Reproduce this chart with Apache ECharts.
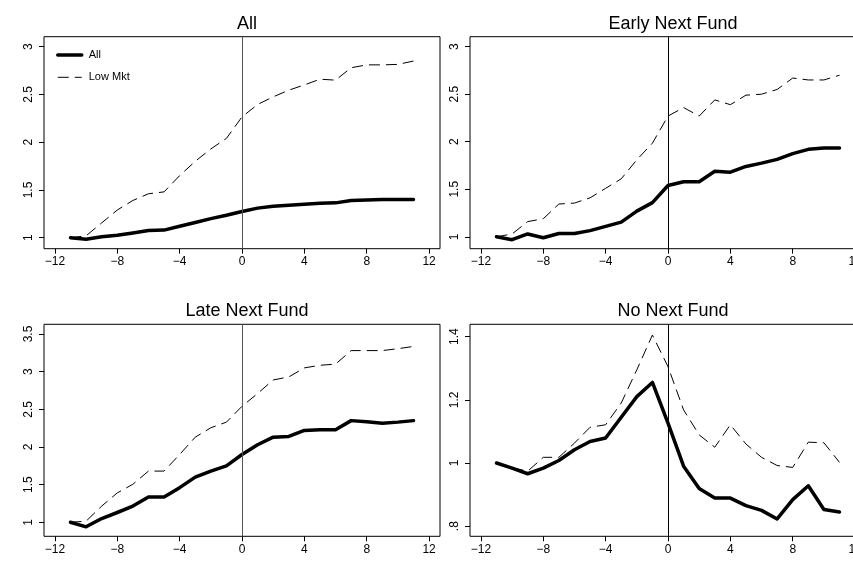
<!DOCTYPE html>
<html>
<head>
<meta charset="utf-8">
<script src="https://cdn.jsdelivr.net/npm/echarts@6/dist/echarts.min.js"></script>
<style>
html,body{margin:0;padding:0;background:#fff;}
#chart{width:853px;height:561px;}
</style>
</head>
<body>
<div id="chart"></div>
<script>
const periods = [-11,-10,-9,-8,-7,-6,-5,-4,-3,-2,-1,0,1,2,3,4,5,6,7,8,9,10,11];

const allAll = [1.0,0.985,1.01,1.025,1.05,1.075,1.08,1.12,1.16,1.2,1.235,1.275,1.31,1.33,1.34,1.35,1.36,1.365,1.39,1.395,1.4,1.4,1.4];
const allLow = [1.0,1.02,1.155,1.29,1.39,1.46,1.48,1.65,1.8,1.93,2.04,2.265,2.395,2.475,2.545,2.6,2.66,2.65,2.78,2.81,2.81,2.815,2.85];

const earlyAll = [1.0,0.97,1.03,0.99,1.035,1.035,1.065,1.11,1.155,1.27,1.36,1.54,1.58,1.58,1.69,1.68,1.74,1.775,1.815,1.875,1.92,1.935,1.935];
const earlyLow = [1.0,1.03,1.16,1.19,1.345,1.355,1.41,1.51,1.61,1.81,1.985,2.27,2.36,2.27,2.44,2.39,2.49,2.5,2.55,2.67,2.65,2.65,2.7];

const lateAll = [1.0,0.94,1.05,1.13,1.215,1.335,1.335,1.46,1.6,1.68,1.75,1.9,2.03,2.13,2.14,2.22,2.23,2.23,2.35,2.335,2.315,2.33,2.35];
const lateLow = [1.0,1.015,1.215,1.39,1.505,1.68,1.68,1.9,2.13,2.255,2.33,2.54,2.71,2.89,2.93,3.05,3.085,3.1,3.28,3.28,3.28,3.305,3.335];

const noAll = [1.0,0.984,0.966,0.984,1.008,1.042,1.068,1.079,1.145,1.21,1.255,1.126,0.99,0.919,0.889,0.889,0.865,0.85,0.823,0.884,0.928,0.853,0.845];
const noLow = [1.0,0.985,0.974,1.018,1.018,1.063,1.113,1.121,1.19,1.295,1.405,1.305,1.168,1.089,1.05,1.121,1.06,1.018,0.992,0.986,1.066,1.064,1.002];

const panelTitles = ['All','Early Next Fund','Late Next Fund','No Next Fund'];
const seriesNames = ['All','Low Mkt'];

const xTicks = [-12,-8,-4,0,4,8,12];
const xTickLabels = ['\u221212','\u22128','\u22124','0','4','8','12'];

const yTicksAll = [1,1.5,2,2.5,3];
const yLabelsAll = ['1','1.5','2','2.5','3'];
const yTicksEarly = [1,1.5,2,2.5,3];
const yLabelsEarly = ['1','1.5','2','2.5','3'];
const yTicksLate = [1,1.5,2,2.5,3,3.5];
const yLabelsLate = ['1','1.5','2','2.5','3','3.5'];
const yTicksNo = [0.8,1,1.2,1.4];
const yLabelsNo = ['.8','1','1.2','1.4'];

const FONT = 'Liberation Sans, Arial, Helvetica, sans-serif';

const panels = [
  {solid: allAll, dashed: allLow, yt: yTicksAll, yl: yLabelsAll, ymin: 0.885, ymax: 3.105, left: 44, top: 36.7, vcol: '#555'},
  {solid: earlyAll, dashed: earlyLow, yt: yTicksEarly, yl: yLabelsEarly, ymin: 0.875, ymax: 3.105, left: 470, top: 36.7, vcol: '#000'},
  {solid: lateAll, dashed: lateLow, yt: yTicksLate, yl: yLabelsLate, ymin: 0.814, ymax: 3.629, left: 44, top: 324.3, vcol: '#555'},
  {solid: noAll, dashed: noLow, yt: yTicksNo, yl: yLabelsNo, ymin: 0.768, ymax: 1.439, left: 470, top: 324.3, vcol: '#000'}
];

const grids = [], xAxes = [], yAxes = [], series = [], titles = [];
panels.forEach((p, i) => {
  grids.push({left: p.left, top: p.top, width: 396, height: 212, show: true, borderColor: '#000', borderWidth: 1,
    backgroundColor: 'transparent', containLabel: false, outerBoundsMode: 'none'});
  xAxes.push({
    type: 'value', gridIndex: i, min: -12.7, max: 12.7,
    axisLine: {show: false, onZero: false},
    splitLine: {show: false},
    axisTick: {show: true, inside: false, length: 5, lineStyle: {color: '#000', width: 1}, customValues: xTicks},
    axisLabel: {customValues: xTicks, margin: 7, color: '#000', fontSize: 12, fontFamily: FONT,
      formatter: v => { const k = xTicks.indexOf(v); return k >= 0 ? xTickLabels[k] : ''; }}
  });
  yAxes.push({
    type: 'value', gridIndex: i, min: p.ymin, max: p.ymax,
    axisLine: {show: false, onZero: false},
    splitLine: {show: false},
    axisTick: {show: true, inside: false, length: 5, lineStyle: {color: '#000', width: 1}, customValues: p.yt},
    axisLabel: {customValues: p.yt, margin: 9, rotate: 90, color: '#000', fontSize: 12, fontFamily: FONT,
      formatter: v => { let k = -1; p.yt.forEach((t, j) => { if (Math.abs(t - v) < 1e-9) k = j; }); return k >= 0 ? p.yl[k] : ''; }}
  });
  titles.push({text: panelTitles[i], left: p.left + 198, top: p.top - 27, textAlign: 'center',
    textStyle: {fontSize: 18, fontWeight: 'normal', color: '#000', fontFamily: FONT}});
  series.push({
    name: seriesNames[0], type: 'line', xAxisIndex: i, yAxisIndex: i, symbol: 'none', z: 4,
    data: periods.map((x, j) => [x, p.solid[j]]),
    lineStyle: {color: '#000', width: 3.5, join: 'round', cap: 'round'},
    itemStyle: {color: '#000'},
    markLine: {silent: true, symbol: 'none', label: {show: false}, animation: false,
      lineStyle: {color: p.vcol, width: 1, type: 'solid'}, data: [{xAxis: 0}]}
  });
  series.push({
    name: seriesNames[1], type: 'line', xAxisIndex: i, yAxisIndex: i, symbol: 'none', z: 3,
    data: periods.map((x, j) => [x, p.dashed[j]]),
    lineStyle: {color: '#000', width: 1, type: [11, 6]},
    itemStyle: {color: '#000'}
  });
});

const chart = echarts.init(document.getElementById('chart'), null, {renderer: 'canvas'});
chart.setOption({
  animation: false,
  backgroundColor: '#fff',
  title: titles,
  legend: {
    data: seriesNames, orient: 'vertical', left: 51, top: 44.5,
    itemWidth: 24, itemHeight: 14, itemGap: 11,
    itemStyle: {opacity: 0},
    lineStyle: {width: 'inherit', type: 'inherit'},
    textStyle: {fontSize: 11, color: '#000', fontFamily: FONT, padding: [0, 0, 0, 2]},
    selectedMode: false
  },
  grid: grids,
  xAxis: xAxes,
  yAxis: yAxes,
  series: series
});
</script>
</body>
</html>
